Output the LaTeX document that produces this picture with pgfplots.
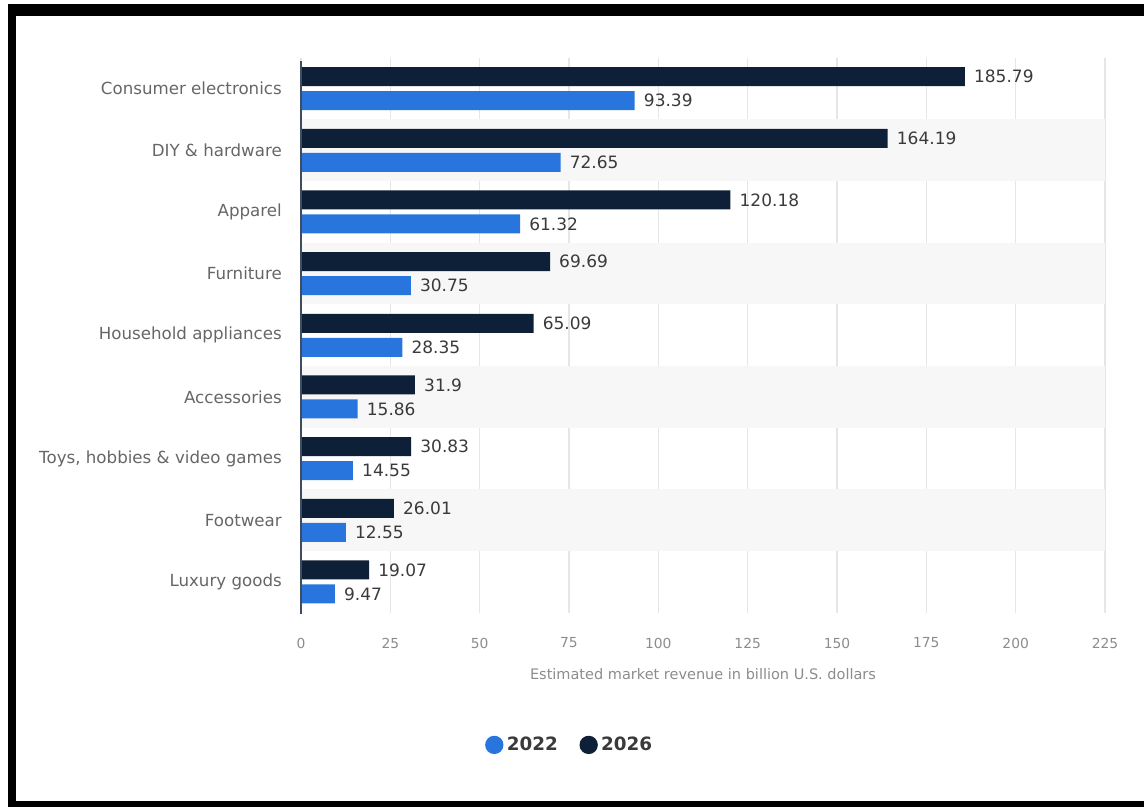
\documentclass[border=0pt]{standalone}
\usepackage{fontspec}
\setmainfont{DejaVu Sans}
\usepackage{pgfplots}
\pgfplotsset{compat=1.18}
\definecolor{cdark}{HTML}{0E1F38}
\definecolor{cblue}{HTML}{2876DD}
\definecolor{band}{HTML}{F7F7F7}
\definecolor{gridc}{HTML}{E6E6E6}
\definecolor{catc}{HTML}{666666}
\definecolor{tickc}{HTML}{8C8C8C}
\definecolor{valc}{HTML}{3A3A3A}
\begin{document}
\begin{tikzpicture}
\path (0,0) rectangle (686.4pt,484.2pt);
\begin{axis}[
  at={(180.6pt,116.5pt)}, anchor=south west,
  scale only axis, width=482.4pt, height=333pt,
  xbar, bar width=11.4pt,
  xmin=0, xmax=225, ymin=-0.5, ymax=8.5,
  xtick={0,25,...,225},
  ytick={0,...,8},
  yticklabels={Luxury goods,Footwear,{Toys, hobbies \& video games},Accessories,Household appliances,Furniture,Apparel,{DIY \& hardware},Consumer electronics},
  axis line style={draw=none},
  major tick length=0pt,
  xmajorgrids, grid style={gridc, line width=0.7pt},
  /pgf/number format/assume math mode=true,
  xticklabel style={font=\fontsize{8.3pt}{9pt}\selectfont, text=tickc, yshift=-11.5pt},
  yticklabel style={font=\fontsize{10pt}{12pt}\selectfont, text=catc, xshift=-8pt},
  xlabel={Estimated market revenue in billion U.S. dollars},
  xlabel style={font=\fontsize{8.7pt}{10pt}\selectfont, text=tickc, yshift=-5pt},
  point meta=explicit symbolic,
  nodes near coords,
  nodes near coords style={font=\fontsize{10.2pt}{12pt}\selectfont, text=valc, anchor=west, xshift=2pt},
  legend style={at={(0.335,-0.238)}, anchor=center, draw=none, fill=none,
    font=\fontsize{11pt}{13pt}\selectfont\bfseries, text=valc,
    /tikz/every even column/.append style={column sep=11pt}},
  legend columns=2,
  clip=false,
]
\fill[band] (axis cs:0,6.5) rectangle (axis cs:225,7.5);
\fill[band] (axis cs:0,4.5) rectangle (axis cs:225,5.5);
\fill[band] (axis cs:0,2.5) rectangle (axis cs:225,3.5);
\fill[band] (axis cs:0,0.5) rectangle (axis cs:225,1.5);
\addplot[fill=cblue, draw=none, bar shift=-7.2pt,
  legend image code/.code={\fill[cblue] (0.1em,0) circle (5.5pt);}]
 coordinates {(93.39,8) [93.39] (72.65,7) [72.65] (61.32,6) [61.32] (30.75,5) [30.75] (28.35,4) [28.35] (15.86,3) [15.86] (14.55,2) [14.55] (12.55,1) [12.55] (9.47,0) [9.47]};
\addplot[fill=cdark, draw=none, bar shift=7.2pt,
  legend image code/.code={\fill[cdark] (0.1em,0) circle (5.5pt);}]
 coordinates {(185.79,8) [185.79] (164.19,7) [164.19] (120.18,6) [120.18] (69.69,5) [69.69] (65.09,4) [65.09] (31.9,3) [31.9] (30.83,2) [30.83] (26.01,1) [26.01] (19.07,0) [19.07]};
\legend{2022,2026}
\draw[cdark!80, line width=0.8pt] (axis cs:0,-0.52) -- (axis cs:0,8.45);
\end{axis}
\fill[black] (4.8pt,0pt) rectangle (9.6pt,481.8pt);
\fill[black] (4.8pt,474.6pt) rectangle (686.4pt,481.8pt);
\fill[black] (4.8pt,0pt) rectangle (686.4pt,3.6pt);
\end{tikzpicture}
\end{document}
